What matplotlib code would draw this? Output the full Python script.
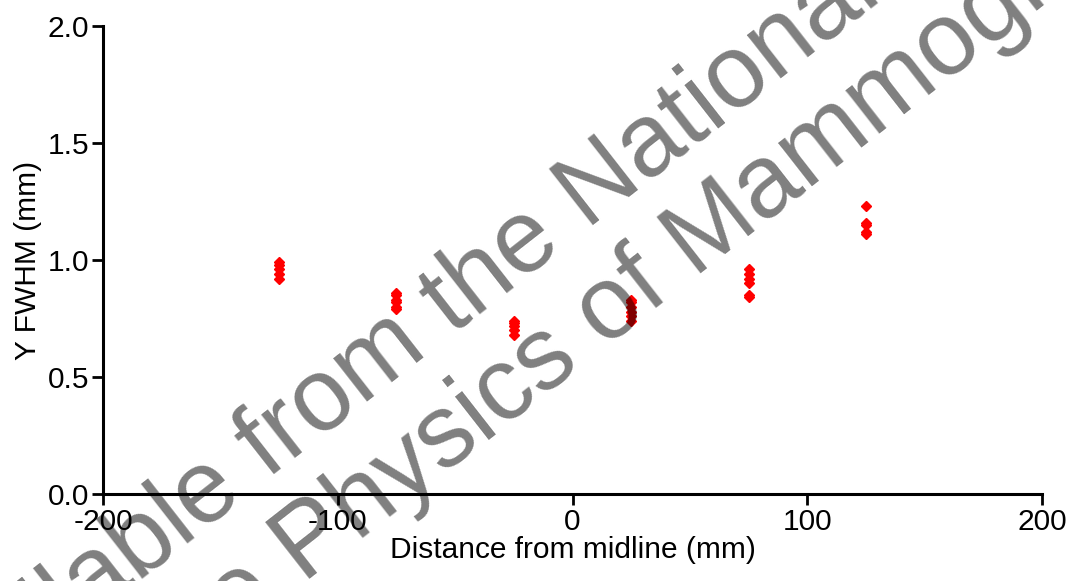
import matplotlib
matplotlib.use("Agg")
import matplotlib.pyplot as plt

plt.rcParams["font.family"] = ["Liberation Sans", "DejaVu Sans"]
plt.rcParams["axes.unicode_minus"] = False

# positions (mm) and measured Y FWHM (mm)
pos_m125 = [0.92, 0.94, 0.96, 0.98, 0.99]
pos_m75 = [0.79, 0.80, 0.82, 0.83, 0.85, 0.86]
pos_m25 = [0.68, 0.70, 0.72, 0.73, 0.74]
pos_25 = [0.74, 0.76, 0.78, 0.80, 0.82, 0.83]
pos_75 = [0.84, 0.85, 0.90, 0.92, 0.94, 0.96]
pos_125 = [1.11, 1.12, 1.15, 1.16, 1.23]
distances = [-125, -75, -25, 25, 75, 125]
fwhm_groups = [pos_m125, pos_m75, pos_m25, pos_25, pos_75, pos_125]

fig = plt.figure(figsize=(10.7, 5.81), dpi=100)
ax = fig.add_axes([0.0963, 0.1497, 0.8775, 0.8055])

for d, vals in zip(distances, fwhm_groups):
    ax.plot([d] * len(vals), vals, linestyle="none", marker="D",
            markersize=5.5, color="red", markeredgecolor="red")

ax.set_xlim(-200, 200)
ax.set_ylim(0, 2.0)
ax.set_xticks([-200, -100, 0, 100, 200])
ax.set_yticks([0.0, 0.5, 1.0, 1.5, 2.0])
ax.set_yticklabels(["0.0", "0.5", "1.0", "1.5", "2.0"])
for s in ["top", "right"]:
    ax.spines[s].set_visible(False)
for s in ["left", "bottom"]:
    ax.spines[s].set_linewidth(2.2)
ax.tick_params(direction="out", length=8, width=2, labelsize=21.5, pad=2)
ax.set_xlabel("Distance from midline (mm)", fontsize=21.5, labelpad=0)
ax.set_ylabel("Y FWHM (mm)", fontsize=21.5, labelpad=4)

# watermark, two lines split so the visible words sit where they do in the source
wm = dict(fontsize=74, color="black", alpha=0.5, rotation=38,
          va="baseline", rotation_mode="anchor")
fig.text(0.250, 0.175, "Available ", ha="right", **wm)
fig.text(0.250, 0.175, "from the National Coordinating", ha="left", **wm)
fig.text(0.565, 0.400, "for the Physics ", ha="right", **wm)
fig.text(0.565, 0.400, "of Mammography", ha="left", **wm)

fig.savefig("out.png", dpi=100)
